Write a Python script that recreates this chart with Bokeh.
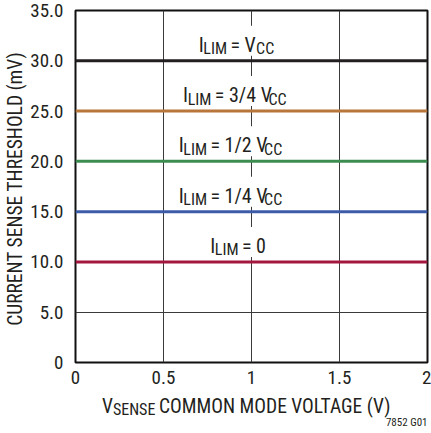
import os
import glob
import subprocess

from bokeh.plotting import figure
from bokeh.layouts import column
from bokeh.models import Label, FixedTicker, Range1d
from bokeh.embed import file_html
from bokeh.resources import INLINE

# ---------------- data ----------------
vsense = [0.0, 2.0]                      # V_SENSE common mode voltage (V)
thr_ilim_vcc = [30.0, 30.0]              # I_LIM = V_CC
thr_ilim_3q = [25.0, 25.0]               # I_LIM = 3/4 V_CC
thr_ilim_half = [20.0, 20.0]             # I_LIM = 1/2 V_CC
thr_ilim_1q = [15.0, 15.0]               # I_LIM = 1/4 V_CC
thr_ilim_zero = [10.0, 10.0]             # I_LIM = 0

x_ticks = [0, 0.5, 1, 1.5, 2]
x_tick_labels = ["0", "0.5", "1", "1.5", "2"]
y_ticks = [0, 5, 10, 15, 20, 25, 30, 35]
y_tick_labels = ["0", "5.0", "10.0", "15.0", "20.0", "25.0", "30.0", "35.0"]

# ---------------- font ----------------
def pick_font():
    cands = [("Liberation Sans Narrow", 0.82, "LiberationSansNarrow"),
             ("Roboto Condensed", 0.84, "RobotoCondensed"),
             ("DejaVu Sans Condensed", 0.90, "DejaVuSansCondensed"),
             ("Liberation Sans", 1.0, "LiberationSans")]
    fams = ""
    try:
        fams = subprocess.run(["fc-list", ":", "family"], capture_output=True,
                              text=True, timeout=20).stdout
    except Exception:
        pass
    files = []
    for d in ["/usr/share/fonts", "/usr/local/share/fonts",
              os.path.expanduser("~/.fonts"), os.path.expanduser("~/.local/share/fonts")]:
        files += [os.path.basename(f) for f in glob.glob(d + "/**/*.*", recursive=True)]
    files = " ".join(files)
    for name, fac, fn in cands:
        if name in fams or fn in files:
            return name, fac
    return "Liberation Sans", 1.0

FONT, WFAC = pick_font()
INK = "#231f20"

ARIAL = {' ': 278, '=': 584, '/': 278, '(': 333, ')': 333, '.': 278,
         'A': 667, 'C': 722, 'D': 722, 'E': 667, 'G': 778, 'H': 722, 'I': 278,
         'L': 556, 'M': 833, 'N': 722, 'O': 778, 'R': 722, 'S': 667, 'T': 611,
         'U': 722, 'V': 667, 'm': 833}
for d in "0123456789":
    ARIAL[d] = 556


def tw(s, size):
    return sum(ARIAL.get(c, 600) for c in s) * WFAC * size / 1000.0


# ---------------- main figure ----------------
W = 431
H1 = 394
ML, MR, MT, MB = 75, 4, 10, 32
FW, FH = W - ML - MR, H1 - MT - MB

p = figure(width=W, height=H1, output_backend="svg", toolbar_location=None,
           x_range=Range1d(0, 2), y_range=Range1d(0, 35), title=None,
           min_border_left=ML, min_border_right=MR, min_border_top=MT,
           min_border_bottom=MB)
p.background_fill_color = "white"
p.border_fill_color = "white"
p.outline_line_color = "#111111"
p.outline_line_width = 2

for ax in (p.xaxis[0], p.yaxis[0]):
    ax.axis_line_color = None
    ax.major_tick_line_color = None
    ax.minor_tick_line_color = None
    ax.major_tick_out = 0
    ax.major_tick_in = 0
    ax.major_label_text_font = FONT
    ax.major_label_text_font_size = "19px"
    ax.major_label_text_color = INK

p.xaxis.ticker = FixedTicker(ticks=x_ticks)
p.xaxis.major_label_overrides = {t: l for t, l in zip(x_ticks, x_tick_labels)}
p.xaxis.major_label_standoff = 8
p.yaxis.ticker = FixedTicker(ticks=y_ticks)
p.yaxis.major_label_overrides = {t: l for t, l in zip(y_ticks, y_tick_labels)}
p.yaxis.major_label_standoff = 12
p.yaxis.axis_label = "CURRENT SENSE THRESHOLD  (mV)"
p.yaxis.axis_label_text_font = FONT
p.yaxis.axis_label_text_font_size = "19.5px"
p.yaxis.axis_label_text_font_style = "normal"
p.yaxis.axis_label_text_color = INK
p.yaxis.axis_label_standoff = 0

p.xgrid.ticker = FixedTicker(ticks=x_ticks)
p.ygrid.ticker = FixedTicker(ticks=y_ticks)
for g in (p.xgrid[0], p.ygrid[0]):
    g.grid_line_color = "#3a3a3a"
    g.grid_line_width = 1

series = [
    (thr_ilim_vcc, "#231f20", [("I", 0), ("LIM", 1), (" = V", 0), ("CC", 1)], 0.918),
    (thr_ilim_3q, "#b8763a", [("I", 0), ("LIM", 1), (" = 3/4 V", 0), ("CC", 1)], 0.909),
    (thr_ilim_half, "#3c8c50", [("I", 0), ("LIM", 1), (" = 1/2 V", 0), ("CC", 1)], 0.884),
    (thr_ilim_1q, "#3c5caa", [("I", 0), ("LIM", 1), (" = 1/4 V", 0), ("CC", 1)], 0.884),
    (thr_ilim_zero, "#a3173e", [("I", 0), ("LIM", 1), (" = 0", 0)], 0.923),
]

MAIN, SUB = 20, 16
PXX = FW / 2.0
PXY = FH / 35.0


def compose(fig, cx, y, pieces, main, sub, off_main, off_sub, adjust=None):
    adjust = adjust or [0] * len(pieces)
    widths = [tw(t, sub if s else main) + a for (t, s), a in zip(pieces, adjust)]
    total = sum(widths)
    off = -total / 2.0
    for (t, s), w in zip(pieces, widths):
        size = sub if s else main
        stripped = t.lstrip(" ")
        lead = tw(t[:len(t) - len(stripped)], size)
        fig.add_layout(Label(x=cx, y=y, x_offset=off + lead,
                             y_offset=off_sub if s else off_main,
                             text=stripped, text_font=FONT,
                             text_font_size=f"{size}px", text_color=INK,
                             text_align="left", text_baseline="alphabetic"))
        off += w
    return total


for ys, color, pieces, cx in series:
    total = sum(tw(t, SUB if s else MAIN) for t, s in pieces)
    yv = ys[0]
    # white patch behind the label (interrupts the vertical grid line)
    p.quad(left=[cx - (total / 2 + 3) / PXX], right=[cx + (total / 2 + 3) / PXX],
           bottom=[yv + 5 / PXY], top=[yv + 35 / PXY],
           fill_color="white", line_color=None)
    p.line(vsense, ys, line_color=color, line_width=3)
    compose(p, cx, yv, pieces, MAIN, SUB, 16, 12)

# ---------------- bottom strip: x-axis title ----------------
H2 = 433 - H1
q = figure(width=W, height=H2, output_backend="svg", toolbar_location=None,
           x_range=Range1d(0, 2), y_range=Range1d(0, 1), title=None,
           x_axis_location=None, y_axis_location=None,
           min_border_left=ML, min_border_right=MR, min_border_top=0,
           min_border_bottom=0)
q.background_fill_color = "white"
q.border_fill_color = "white"
q.outline_line_color = None
q.grid.visible = False

compose(q, 0.99, 0.5, [("V", 0), ("SENSE", 1), (" COMMON MODE VOLTAGE (V)", 0)],
        19.5, 16, 8, 5, adjust=[0, -4, 0])

q.add_layout(Label(x=2, y=0.5, x_offset=0, y_offset=-8, text="7852 G01",
                   text_font=FONT, text_font_size="11px", text_color=INK,
                   text_align="right", text_baseline="alphabetic"))

layout = column(p, q, spacing=0)
open("out.html", "w").write(file_html(layout, INLINE))
